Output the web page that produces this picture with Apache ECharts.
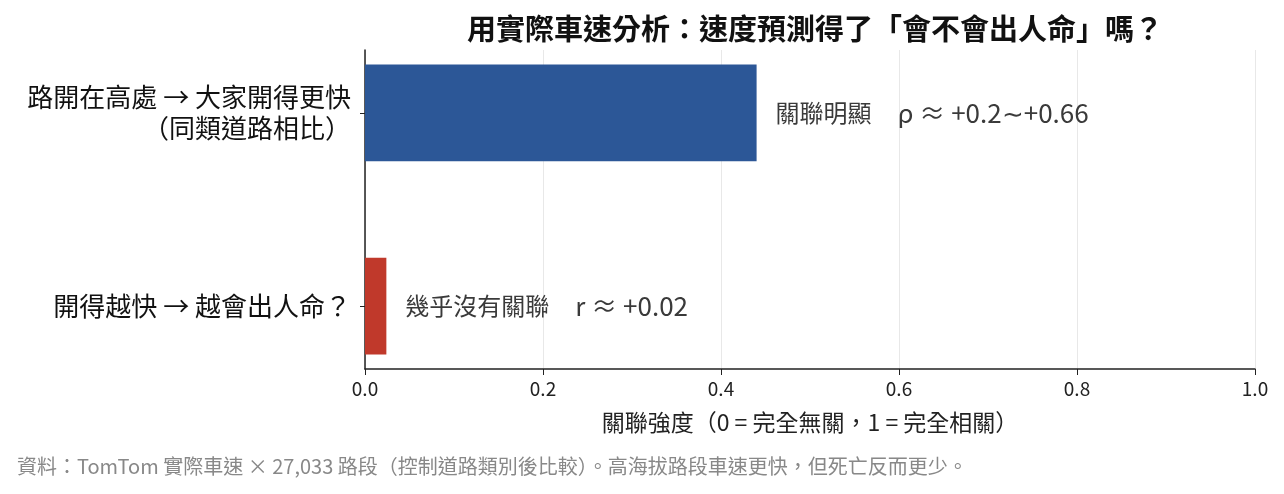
<!DOCTYPE html>
<html>
<head>
<meta charset="utf-8">
<script src="https://cdn.jsdelivr.net/npm/echarts@6/dist/echarts.min.js"></script>
<style>
html,body{margin:0;padding:0;background:#fff;}
#c{width:1284px;height:494px;}
</style>
</head>
<body>
<div id="c"></div>
<script>
// ---- data ----
const categories = ['開得越快 → 越會出人命？', '路開在高處 → 大家開得更快\n（同類道路相比）'];
const values = [0.024, 0.44];
const barNotes = ['幾乎沒有關聯', '關聯明顯'];
const barStats = ['r ≈ +0.02', 'ρ ≈ +0.2∼+0.66'];
const xTicks = [0, 0.2, 0.4, 0.6, 0.8, 1.0];
const titleText = '用實際車速分析：速度預測得了「會不會出人命」嗎？';
const xName = '關聯強度（0 = 完全無關，1 = 完全相關）';
const footText = '資料：TomTom 實際車速 × 27,033 路段（控制道路類別後比較）。高海拔路段車速更快，但死亡反而更少。';

const colors = ['#c0392b', '#2c5797'];
const BAR_H = 0.5;
const FONT = '"Noto Sans CJK TC", "Noto Sans", sans-serif';

const chart = echarts.init(document.getElementById('c'), null, {renderer: 'canvas'});

function renderItem(params, api) {
  const v = api.value(0), i = api.value(1);
  const p0 = api.coord([0, i + BAR_H / 2]);
  const p1 = api.coord([v, i - BAR_H / 2]);
  const idx = params.dataIndex;
  return {
    type: 'group',
    children: [
      {type: 'rect', shape: {x: p0[0], y: p0[1], width: p1[0] - p0[0], height: p1[1] - p0[1]},
       style: {fill: colors[idx]}},
      {type: 'text', x: p1[0] + 19, y: (p0[1] + p1[1]) / 2,
       style: {
         text: '{a|' + barNotes[idx] + '}{b|' + barStats[idx] + '}',
         verticalAlign: 'middle', align: 'left',
         rich: {
           a: {fontFamily: FONT, fontSize: 24, fill: '#3a3a3a', padding: [0, 26, 0, 0]},
           b: {fontFamily: FONT, fontSize: 26, fill: '#3a3a3a'}
         }
       }}
    ]
  };
}

chart.setOption({
  backgroundColor: '#fff',
  animation: false,
  title: {
    text: titleText,
    left: 810, top: 9, textAlign: 'center',
    textStyle: {fontFamily: FONT, fontSize: 29, fontWeight: 'bold', color: '#111'}
  },
  graphic: [{
    type: 'text', left: 17, top: 456,
    style: {text: footText, fontFamily: FONT, fontSize: 20, fill: '#888'}
  }],
  grid: {left: 365, right: 29, top: 50, bottom: 125},
  xAxis: {
    type: 'value', min: 0, max: 1, interval: 0.2,
    axisLine: {show: true, onZero: false, lineStyle: {color: '#222', width: 1.5}},
    axisTick: {show: true, length: 6, lineStyle: {color: '#222'}},
    axisLabel: {margin: 10, fontFamily: FONT, fontSize: 19, color: '#222',
      formatter: v => v.toFixed(1)},
    splitLine: {show: true, lineStyle: {color: '#e8e8e8', width: 1}},
    name: xName, nameLocation: 'middle', nameGap: 42,
    nameTextStyle: {fontFamily: FONT, fontSize: 23, color: '#222'}
  },
  yAxis: {
    type: 'value', min: -0.325, max: 1.325,
    axisLine: {show: true, onZero: false, lineStyle: {color: '#222', width: 1.5}},
    axisTick: {show: true, length: 5, customValues: [0, 1], lineStyle: {color: '#222'}},
    axisLabel: {customValues: [0, 1], margin: 14, fontFamily: FONT, fontSize: 26, color: '#111',
      lineHeight: 31, align: 'right',
      formatter: v => categories[Math.round(v)]},
    splitLine: {show: false}
  },
  series: [{
    type: 'custom',
    renderItem: renderItem,
    encode: {x: 0, y: 1},
    data: values.map((v, i) => [v, i])
  }]
});
</script>
</body>
</html>
